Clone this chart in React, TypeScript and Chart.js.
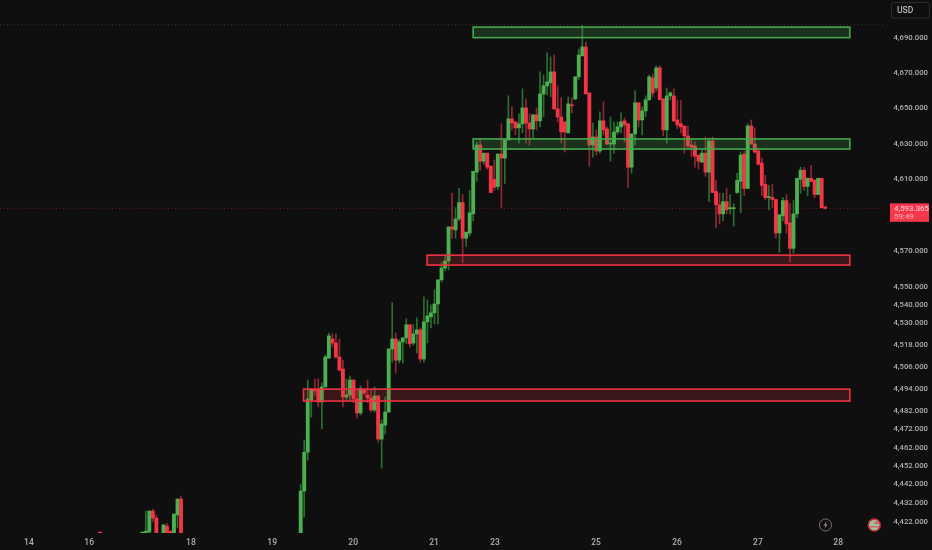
import React, { useEffect, useRef } from "react";
import { Chart, registerables } from "chart.js";

Chart.register(...registerables);

const times = [28,40,41,42,43,44,46,47,48,49,50,51,
85,86,87,88,89,90,91,92,93,94,95,96,97,98,99,100,101,102,103,104,105,106,107,108,109,110,
111,112,113,114,115,116,117,118,119,120,121,122,123,124,125,126,127,128,129,130,131,132,133,134,135,136,137,138,139,140,
141,142,143,144,145,146,147,148,149,150,151,152,153,154,155,156,157,158,159,160,161,162,163,164,165,166,167,168,169,170,
171,172,173,174,175,176,177,178,179,180,181,182,183,184,185,186,187,188,189,190,191,192,193,194,195,196,197,198,199,200,
201,202,203,204,205,206,207,208,209,210,211,212,213,214,215,216,217,218,219,220,221,222,223,224,225,226,227,228,229,230,231,232,233,234];

const opens = [4416.1,4414,4405,4416.1,4427.4,4423.6,4405,4419.3,4416.6,4405,4425.3,4433.9,
4405,4438.2,4459.2,4487.6,4493.1,4493.6,4486.5,4494.7,4510.5,4521,4518.8,4511.1,4504.5,4489.2,4490.3,4498.5,4488.1,4480.5,4493.1,4490.3,4488.7,4482.1,4489.8,4466.3,4473.9,4481,
4515.5,4521,4509.4,4519.4,4521.6,4528.8,4518.8,4523.8,4526,4510,4530.4,4533.2,4535.4,4540.3,4553.6,4560.2,4564.1,4583,4581.3,4587.5,4596.6,4576.7,4579.6,4590.3,4613.6,4628.9,4619.8,4624.3,4617,4609.6,
4605.6,4623.8,4621.5,4631.7,4643.6,4641.9,4638.5,4640.8,4649.8,4641.3,4637.9,4645.9,4642.5,4657.7,4662.3,4664,4670.2,4649.3,4644.7,4641.9,4635.7,4651.5,4654.9,4667.4,4679.3,4684.4,4658.3,4628.9,4633.4,4625.5,
4642.5,4637.9,4629.4,4629.4,4636.2,4639.1,4642.5,4640.8,4616.4,4635.1,4652.7,4643,4648.1,4654.4,4666.8,4661.1,4672.5,4654.9,4637.4,4656.6,4656.6,4643,4640.8,4639.6,4634,4628.9,4628.3,4623.2,4619.2,4624.3,
4613.6,4631.1,4602.8,4595.4,4590.3,4597.1,4593.2,4593.2,4602.2,4608.5,4623.8,4604.5,4639.6,4629.4,4625.5,4618.7,4606.8,4599.4,4599.4,4598.3,4579.6,4589.2,4597.7,4585.2,4571.1,4590.3,4609.6,4614.7,4605.6,4610.2,4609,4601.1,4610.2,4594.2];

const highs = [4416.1,4416.1,4427.4,4427.4,4428.5,4425.3,4420.4,4420.9,4416.6,4425.8,4433.9,4435.5,
4441.9,4465.8,4498.5,4493.6,4499.1,4499.1,4496.9,4512.2,4524.3,4523.8,4523.8,4521,4509.4,4499.1,4500.7,4498.5,4493.1,4495.2,4493.6,4498.5,4493.1,4494.7,4489.8,4476.7,4489.2,4515.5,
4540.9,4524.3,4520.5,4521.6,4532.1,4528.8,4528.8,4532.6,4527.1,4544.2,4542.6,4539.8,4548.1,4553.6,4563.5,4567.4,4583,4601.7,4593.7,4604.5,4601.1,4580.1,4603.4,4614.1,4630.6,4632.3,4624.3,4624.3,4617,4620.4,
4623.8,4640.8,4631.7,4656.6,4650.4,4641.9,4646.4,4660.6,4654.9,4646.4,4645.9,4649.8,4670.2,4668.5,4681,4678.7,4679.8,4662.3,4655.5,4641.9,4656,4655.5,4667.4,4683.2,4696.8,4687.2,4658.3,4641.3,4637.4,4647.6,
4653.2,4639.1,4644.7,4641.9,4641.9,4647,4644.2,4640.8,4635.1,4659.4,4652.7,4650.4,4656.6,4668.5,4669.1,4673.6,4673.6,4654.9,4661.1,4659,4660.6,4654,4654,4639.6,4639.6,4632,4630.6,4623.2,4626,4633.4,
4632.8,4633.4,4609,4601.7,4601.7,4604.5,4601.1,4596,4613,4624.9,4625.5,4640.8,4643,4638.5,4627.2,4621.5,4611.9,4606.2,4606.8,4598.3,4589.8,4599.4,4601.1,4596,4597.7,4610.2,4616.4,4616.4,4610.2,4617.5,4609.6,4610.2,4610.2,4594.2];

const lows = [4415,4414,4405,4414,4421.5,4405,4405,4405,4405,4405,4418.3,4405,
4405,4424.2,4454.9,4478.3,4489.8,4483.8,4471.8,4494.7,4510.5,4516.6,4510.5,4503.4,4483.8,4487.6,4487.1,4486,4477.8,4479.4,4490.3,4486,4481,4481,4464.7,4450.6,4469,4481,
4508.3,4502.3,4507.8,4507.8,4518.3,4516.6,4517.7,4513.3,4508.3,4508.3,4518.8,4527.1,4529.3,4529.3,4552.5,4558.5,4559.1,4576.7,4576.7,4586.4,4563,4572.2,4577.9,4586.4,4608.5,4614.7,4618,4615.3,4602.2,4603.4,
4603.9,4593.7,4607.3,4631.7,4637.4,4634.5,4630,4635.7,4630,4628.9,4632.8,4637.4,4639.1,4644.7,4657.2,4656,4648.7,4641.9,4630,4624.9,4635.7,4647,4654.4,4665.7,4679.3,4657.7,4617,4622.1,4623.2,4624.3,
4634.5,4628.9,4619.8,4624.3,4635,4635.7,4630.6,4605.1,4613,4628.9,4639.1,4634.5,4645,4654,4656,4659.4,4654.4,4634,4630,4654.4,4642,4638,4635.7,4624.3,4627.2,4622.1,4616.4,4615.3,4619.2,4611.3,
4597.1,4602.2,4582.4,4584.7,4586.4,4590.3,4590.3,4583.5,4601.7,4590.9,4600.5,4604.5,4629.4,4624.3,4617.5,4600.5,4598.3,4592.6,4593.7,4576.7,4569,4586.4,4579.6,4563.5,4568.5,4588.1,4601.7,4603.4,4600.5,4608,4599.4,4601.1,4593.7,4592.9];

const closes = [4415.5,4416.1,4416.6,4427.4,4423.6,4405,4419.9,4405,4405,4425.8,4433.9,4405,
4438.2,4459.2,4488.1,4493.6,4492.5,4486.5,4494.7,4511.1,4522.7,4518.8,4511.1,4504,4489.2,4490.3,4498.5,4488.1,4480.5,4493.6,4491.4,4488.7,4482.1,4489.8,4466.3,4474.5,4481,4515.5,
4521,4509.4,4519.4,4521.6,4528.8,4518.3,4523.8,4526,4510,4530.4,4533.7,4535.4,4540.3,4553.6,4560.2,4564.1,4583,4581.8,4587.5,4596.6,4576.7,4580.1,4590.9,4614.1,4628.9,4619.8,4624.3,4616.4,4602.2,4605.1,
4623.8,4621.5,4631.7,4643.6,4641.3,4638.5,4640.8,4649.8,4641.3,4637.9,4645.9,4642.5,4657.7,4662.3,4664.5,4670.2,4649.3,4644.7,4636.2,4636.2,4652.1,4651,4667.4,4679.8,4684.4,4657.7,4628.9,4633.4,4625.5,4642.5,
4637.4,4629.4,4630,4636.2,4639.1,4641.9,4640.2,4616.4,4635.1,4652.7,4643,4648.1,4654.4,4667.4,4658.3,4672.5,4654.4,4637.4,4656.6,4658.3,4642.5,4640.2,4639.1,4634,4628.3,4627.7,4622.6,4619.8,4624.3,4613.6,
4631.1,4602.2,4595.4,4590.3,4597.1,4592.6,4593.7,4593.7,4609,4623.2,4604.5,4639.6,4629.4,4624.9,4618.1,4606.2,4599.4,4600,4598.3,4579.6,4589.8,4597.7,4584.7,4571.1,4590.3,4610.2,4614.7,4605.6,4610.2,4608.5,4601.1,4610.2,4593.7,4593.365];

const priceTicks = [4690,4670,4650,4630,4610,4570,4550,4540,4530,4518,4506,4494,4482,4472,4462,4452,4442,4432,4422];
const timeTicks = [7.8,24.9,53.8,76.9,99.9,122.9,140.2,168.9,191.9,214.9,237.7];
const timeLabels = ["14","16","18","19","20","21","23","25","26","27","28"];

const zoneStarts = [134,134,120.9,85.8];
const zoneEnds = [241,241,241,241];
const zoneTops = [4695.7,4632.3,4567.3,4493.5];
const zoneBottoms = [4689.7,4626.6,4561.8,4487.0];
const zoneKinds = ["up","up","down","down"];

const lastPrice = 4593.365;
const countdown = "59:49";
const topLine = 4697;
const currency = "USD";

const UP = "#4caf50";
const DOWN = "#f23645";
const UP_WICK = "#2a6f30";
const DOWN_WICK = "#8f2735";
const BG = "#0f0f0f";
const TEXT = "#b0b0b0";
const FONT = "Roboto, sans-serif";

const fmt = (v: number) =>
  v.toLocaleString("en-US", { minimumFractionDigits: 3, maximumFractionDigits: 3 });

const overlay = {
  id: "overlay",
  beforeDraw(chart: any) {
    const { ctx, width, height } = chart;
    ctx.save();
    ctx.fillStyle = BG;
    ctx.fillRect(0, 0, width, height);
    ctx.restore();
  },
  afterDatasetsDraw(chart: any) {
    const { ctx, scales } = chart;
    const xs = scales.x;
    const ys = scales.y;
    ctx.save();
    zoneStarts.forEach((s, i) => {
      const x0 = xs.getPixelForValue(s);
      const x1 = xs.getPixelForValue(zoneEnds[i]);
      const y0 = ys.getPixelForValue(zoneTops[i]);
      const y1 = ys.getPixelForValue(zoneBottoms[i]);
      const up = zoneKinds[i] === "up";
      ctx.fillStyle = up ? "rgba(76,175,80,0.22)" : "rgba(242,54,69,0.2)";
      ctx.fillRect(x0, y0, x1 - x0, y1 - y0);
      ctx.strokeStyle = up ? "#46a84d" : "#ee3344";
      ctx.lineWidth = 1.6;
      ctx.strokeRect(x0, y0, x1 - x0, y1 - y0);
    });
    ctx.restore();
  },
  afterDraw(chart: any) {
    const { ctx, scales } = chart;
    const ys = scales.y;
    ctx.save();
    const py = ys.getPixelForValue(lastPrice);
    ctx.fillStyle = "#f7374b";
    ctx.fillRect(890, py - 5, 39, 18.5);
    ctx.font = `500 7.8px ${FONT}`;
    ctx.textBaseline = "middle";
    ctx.textAlign = "left";
    ctx.fillStyle = "rgba(255,225,225,0.8)";
    ctx.fillText(fmt(lastPrice), 894, py + 0.5);
    ctx.fillStyle = "rgba(255,225,225,0.62)";
    ctx.fillText(countdown, 894, py + 8.5);
    ctx.strokeStyle = "#2b2b2b";
    ctx.lineWidth = 1;
    ctx.beginPath();
    ctx.roundRect(891.5, 2.5, 38, 15.5, 2);
    ctx.stroke();
    ctx.fillStyle = "#b8b8b8";
    ctx.font = `500 8.5px ${FONT}`;
    ctx.fillText(currency, 897, 10.5);
    ctx.strokeStyle = "#7d6f70";
    ctx.lineWidth = 1;
    ctx.beginPath();
    ctx.arc(825.5, 525, 6, 0, Math.PI * 2);
    ctx.stroke();
    ctx.fillStyle = "#9a8f8f";
    ctx.beginPath();
    ctx.moveTo(826.8, 521);
    ctx.lineTo(823.6, 525.6);
    ctx.lineTo(825.5, 525.6);
    ctx.lineTo(824.4, 529);
    ctx.lineTo(827.6, 524.4);
    ctx.lineTo(825.6, 524.4);
    ctx.closePath();
    ctx.fill();
    ctx.strokeStyle = "#c22a3a";
    ctx.lineWidth = 1.5;
    ctx.beginPath();
    ctx.arc(874.3, 525, 6, 0, Math.PI * 2);
    ctx.fillStyle = "#9fc29a";
    ctx.fill();
    ctx.stroke();
    ctx.fillStyle = "#d9606a";
    ctx.fillRect(874.5, 521.5, 4.5, 2.5);
    ctx.fillRect(870, 526, 9, 1.5);
    ctx.restore();
  },
};

export default function App() {
  const ref = useRef<HTMLCanvasElement>(null);
  useEffect(() => {
    document.body.style.margin = "0";
    document.body.style.background = BG;
    const colors = times.map((_, i) => (closes[i] >= opens[i] ? UP : DOWN));
    const wickColors = times.map((_, i) => (closes[i] >= opens[i] ? UP_WICK : DOWN_WICK));
    const xMin = -0.426;
    const xMax = 250.71;
    const chart = new Chart(ref.current as HTMLCanvasElement, {
      type: "bar",
      data: {
        datasets: [
          {
            label: "body",
            order: 1,
            data: times.map((t, i) => ({ x: t, y: [opens[i], closes[i]] })),
            backgroundColor: colors,
            barThickness: 3.2,
            grouped: false,
            minBarLength: 1,
            borderWidth: 0,
          },
          {
            label: "wick",
            order: 2,
            data: times.map((t, i) => ({ x: t, y: [lows[i], highs[i]] })),
            backgroundColor: wickColors,
            barThickness: 1,
            grouped: false,
            borderWidth: 0,
          },
          {
            type: "line",
            label: "last",
            order: 3,
            data: [
              { x: xMin, y: lastPrice },
              { x: xMax, y: lastPrice },
            ],
            borderColor: "rgba(242,54,69,0.4)",
            borderWidth: 1,
            borderDash: [1, 2.5],
            pointRadius: 0,
          },
          {
            type: "line",
            label: "high",
            order: 3,
            data: [
              { x: xMin, y: topLine },
              { x: xMax, y: topLine },
            ],
            borderColor: "rgba(130,130,130,0.38)",
            borderWidth: 1,
            borderDash: [1, 2.5],
            pointRadius: 0,
          },
        ] as any,
      },
      options: {
        responsive: false,
        animation: false,
        devicePixelRatio: 1,
        layout: { padding: 0 },
        plugins: { legend: { display: false }, tooltip: { enabled: false } },
        scales: {
          x: {
            type: "linear",
            offset: false,
            min: xMin,
            max: xMax,
            grid: { display: false, drawTicks: false },
            border: { display: false },
            afterBuildTicks: (s: any) => {
              s.ticks = timeTicks.map((v) => ({ value: v }));
            },
            afterFit: (s: any) => {
              s.height = 17;
              s.paddingLeft = 0;
              s.paddingRight = 0;
            },
            ticks: {
              autoSkip: false,
              maxRotation: 0,
              color: TEXT,
              padding: 4.5,
              font: { family: FONT, size: 8.5, weight: "500" },
              callback: (v: any) => timeLabels[timeTicks.indexOf(v)] ?? "",
            },
          },
          y: {
            type: "logarithmic",
            position: "right",
            offset: false,
            min: 4415.6,
            max: 4711.2,
            grid: { display: false, drawTicks: false },
            border: { display: false },
            afterBuildTicks: (s: any) => {
              s.ticks = priceTicks.map((v) => ({ value: v }));
            },
            afterFit: (s: any) => {
              s.width = 48;
              s.paddingTop = 0;
              s.paddingBottom = 0;
            },
            ticks: {
              autoSkip: false,
              color: TEXT,
              padding: 9.5,
              labelOffset: 0.6,
              font: { family: FONT, size: 7.7, weight: "500" },
              callback: (v: any) => fmt(Number(v)),
            },
          },
        },
      } as any,
      plugins: [overlay],
    });
    return () => chart.destroy();
  }, []);
  return <canvas ref={ref} width={932} height={550} style={{ display: "block", width: 932, height: 550 }} />;
}
